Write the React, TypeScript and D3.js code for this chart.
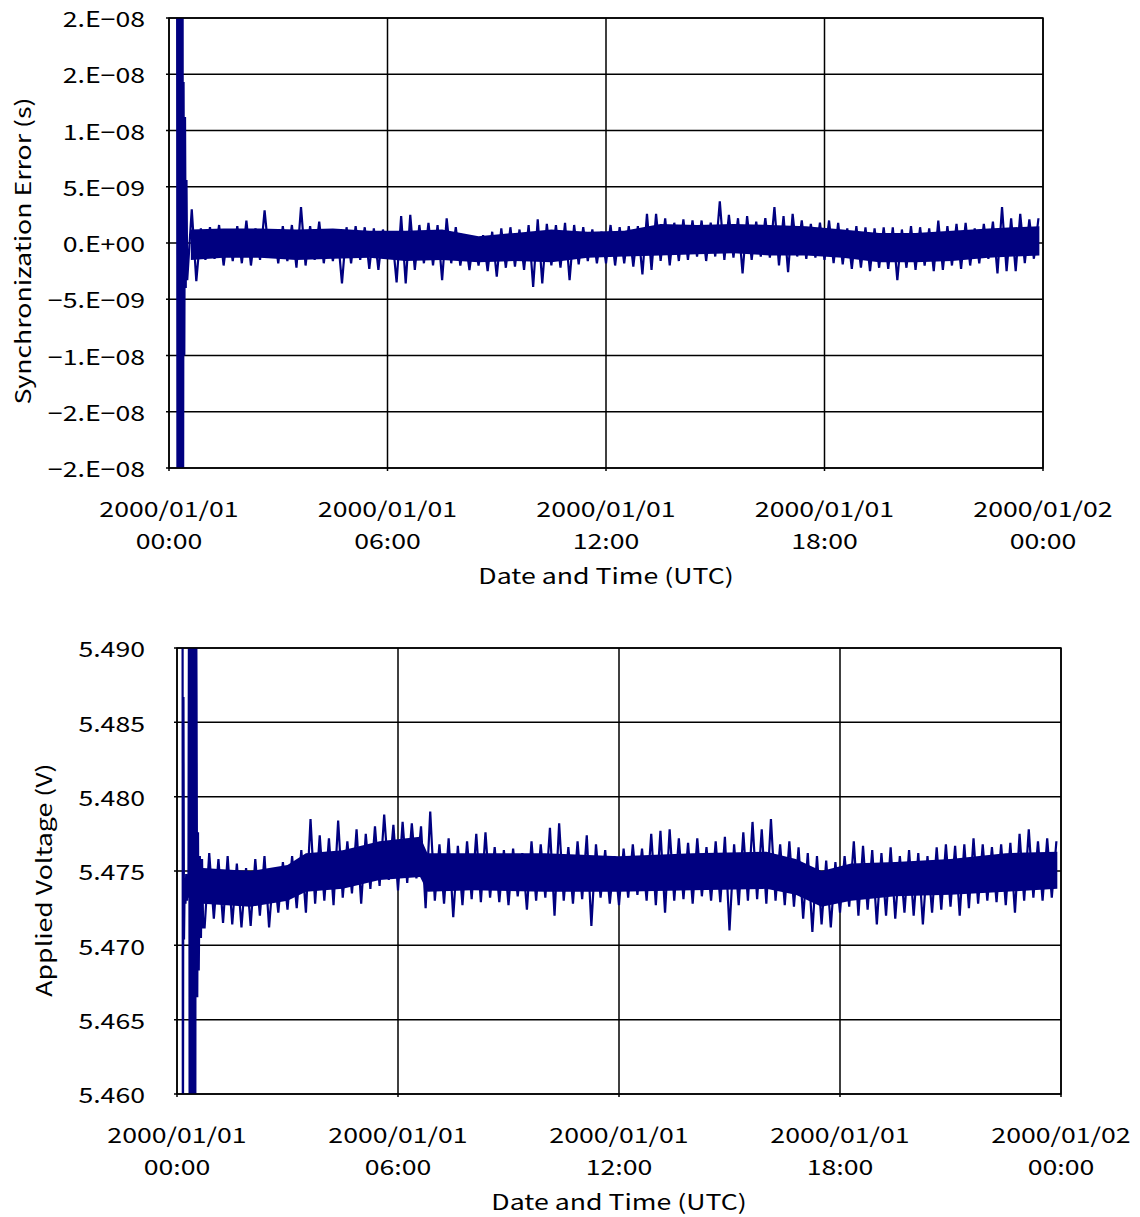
import React from "react";
import * as d3 from "d3";

const FONT = "'Noto Sans CJK JP', 'Noto Sans', sans-serif";
const LINE = "#000080";
const STRETCH = 1.27;

// shared time axis (hours from 2000/01/01 00:00 UTC)
const hourTicks = [0, 6, 12, 18, 24];
const tickDates = ["2000/01/01", "2000/01/01", "2000/01/01", "2000/01/01", "2000/01/02"];
const tickTimes = ["00:00", "06:00", "12:00", "18:00", "00:00"];
const BIN_STEP = 0.25;

// synchronization error, in ns
const syncTicks = [20, 15, 10, 5, 0, -5, -10, -15, -20];
const syncTickLabels = ["2.E−08", "2.E−08", "1.E−08", "5.E−09", "0.E+00", "−5.E−09", "−1.E−08", "−2.E−08", "−2.E−08"];
const syncStartHours = [0.22, 0.235, 0.25, 0.265, 0.28, 0.295, 0.31, 0.325, 0.34, 0.355, 0.37, 0.385, 0.4, 0.42, 0.44, 0.46, 0.48];
const syncStartValues = [40, -40, 40, -40, 40, -40, 40, -40, 40, -40, 40, -30, 14.3, -10, 11.2, -4, 5.6];
const SYNC_BIN_START = 0.5;
const syncHigh = [
  3.0, 1.3, 1.4, 1.6, 1.2, 1.5, 2.0, 1.3, 2.9, 1.2, 1.5, 1.6, 3.2, 1.5, 1.9, 1.2,
  1.0, 1.4, 1.5, 1.4, 1.3, 1.2, 0.8, 2.4, 2.5, 1.6, 1.8, 1.6, 2.2, 1.4, 0.6, 0.6,
  0.7, 1.0, 1.3, 1.4, 1.2, 1.6, 2.1, 1.7, 1.6, 1.8, 1.6, 1.4, 1.2, 1.0, 1.6, 1.4,
  1.5, 1.5, 2.6, 2.6, 2.2, 1.8, 2.1, 2.0, 2.0, 1.8, 3.7, 2.5, 2.2, 2.4, 1.9, 2.2,
  3.2, 2.4, 2.6, 2.0, 1.7, 1.8, 2.0, 1.8, 1.3, 1.5, 1.4, 1.3, 1.4, 1.4, 1.2, 1.5,
  1.4, 1.3, 2.0, 1.5, 1.7, 1.8, 1.3, 1.7, 1.9, 3.2, 2.2, 2.6, 2.1, 2.2,
];
const syncLow = [
  -3.3, -3.4, -1.5, -1.4, -2.0, -1.6, -1.8, -2.0, -1.5, -1.3, -1.8, -1.6, -2.2, -2.0, -1.5, -1.8,
  -1.6, -3.6, -1.8, -1.5, -2.3, -2.4, -1.3, -3.5, -3.6, -2.4, -1.8, -2.0, -3.3, -1.8, -2.0, -2.4,
  -2.0, -2.5, -3.0, -2.2, -2.1, -2.4, -3.9, -3.6, -2.0, -2.2, -3.3, -1.9, -1.6, -1.8, -1.8, -2.0,
  -1.8, -2.1, -2.8, -2.4, -1.6, -2.0, -1.6, -1.5, -1.2, -1.6, -1.2, -1.5, -1.3, -2.7, -1.5, -1.2,
  -1.3, -2.0, -2.6, -1.2, -1.4, -1.3, -1.5, -1.8, -1.9, -2.3, -2.2, -2.5, -2.2, -2.3, -3.3, -2.2,
  -2.4, -2.0, -2.5, -2.4, -2.0, -2.3, -2.0, -1.8, -1.4, -2.7, -2.5, -2.5, -1.8, -1.4,
];
// dense core of the trace (ns)
const syncCoreHours = [0.6, 1.5, 2.5, 3.5, 4.5, 5.5, 6.5, 7.5, 8.5, 9.5, 10.5, 11.5, 12.5, 13.5, 14.5, 15.5, 16.5, 17.5, 18.5, 19.5, 20.5, 21.5, 22.5, 23.9];
const syncCoreHigh = [1.2, 1.3, 1.3, 1.2, 1.3, 1.1, 1.1, 1.2, 0.6, 0.9, 1.2, 1.0, 1.1, 1.7, 1.6, 1.7, 1.6, 1.5, 1.2, 0.9, 0.9, 1.1, 1.3, 1.5];
const syncCoreLow = [-1.5, -1.3, -1.3, -1.5, -1.4, -1.3, -1.6, -1.5, -1.7, -1.6, -1.7, -1.3, -1.2, -1.1, -1.0, -0.9, -1.1, -1.1, -1.3, -1.7, -1.7, -1.6, -1.3, -1.1];

// applied voltage, in V
const voltTicks = [5.49, 5.485, 5.48, 5.475, 5.47, 5.465, 5.46];
const voltStartHours = [
  0.15, 0.16, 0.175, 0.19, 0.21, 0.23, 0.25, 0.27, 0.29, 0.31, 0.33, 0.345, 0.36, 0.375, 0.39, 0.405,
  0.42, 0.435, 0.45, 0.465, 0.48, 0.495, 0.51, 0.53, 0.55, 0.57, 0.59, 0.62, 0.65, 0.68, 0.71,
];
const voltStartValues = [
  5.5, 5.45, 5.4867, 5.4704, 5.4745, 5.4728, 5.4748, 5.473, 5.4746, 5.4732, 5.5, 5.45, 5.5, 5.45, 5.5, 5.45,
  5.5, 5.45, 5.5, 5.45, 5.5, 5.45, 5.5, 5.4869, 5.4665, 5.4776, 5.4683, 5.476, 5.4705, 5.4758, 5.4712,
];
const VOLT_BIN_START = 0.75;
const voltHigh = [
  5.4762, 5.4758, 5.476, 5.4755, 5.4752, 5.4758, 5.476, 5.4752, 5.4756, 5.476, 5.4764, 5.4785, 5.4774, 5.4772, 5.4784, 5.477,
  5.4778, 5.4775, 5.478, 5.4788, 5.4781, 5.4783, 5.4782, 5.478, 5.479, 5.4768, 5.4772, 5.4767, 5.477, 5.4775, 5.4776, 5.4766,
  5.4764, 5.4765, 5.4762, 5.477, 5.4768, 5.4779, 5.4782, 5.4766, 5.477, 5.4774, 5.4768, 5.4764, 5.476, 5.4765, 5.4768, 5.4765,
  5.4775, 5.4777, 5.4778, 5.4772, 5.4769, 5.4772, 5.4766, 5.477, 5.4773, 5.4768, 5.4776, 5.4783, 5.4778, 5.4785, 5.4768, 5.477,
  5.4766, 5.4762, 5.476, 5.4757, 5.4756, 5.476, 5.477, 5.4767, 5.4764, 5.4762, 5.4766, 5.476, 5.4764, 5.4762, 5.476, 5.4766,
  5.4768, 5.4767, 5.4768, 5.4772, 5.4768, 5.4766, 5.4768, 5.4769, 5.4775, 5.4778, 5.477, 5.4772, 5.477,
];
const voltLow = [
  5.4712, 5.4718, 5.4715, 5.4714, 5.4712, 5.4713, 5.472, 5.4712, 5.4722, 5.4724, 5.4725, 5.4722, 5.4728, 5.473, 5.4727, 5.4732,
  5.4735, 5.4728, 5.4738, 5.474, 5.4744, 5.4737, 5.4742, 5.4745, 5.4725, 5.473, 5.4728, 5.4719, 5.4727, 5.4731, 5.4729, 5.4732,
  5.4729, 5.4727, 5.4733, 5.4724, 5.473, 5.4732, 5.472, 5.473, 5.4728, 5.4731, 5.4713, 5.4732, 5.4728, 5.4727, 5.4732, 5.4734,
  5.473, 5.4727, 5.4722, 5.473, 5.4731, 5.4728, 5.4733, 5.473, 5.4729, 5.471, 5.4727, 5.473, 5.4731, 5.4728, 5.473, 5.4727,
  5.4726, 5.4718, 5.4709, 5.4714, 5.4712, 5.4722, 5.4726, 5.472, 5.4724, 5.4714, 5.472, 5.4718, 5.4722, 5.472, 5.4714, 5.4722,
  5.4724, 5.4726, 5.472, 5.4725, 5.4728, 5.473, 5.4729, 5.4727, 5.4722, 5.473, 5.4732, 5.473, 5.4732,
];
// dense core of the trace (V)
const voltCoreHours = [0.7, 2.0, 3.0, 3.5, 4.5, 5.5, 6.6, 6.8, 8.0, 10.0, 12.0, 14.0, 16.0, 16.8, 17.5, 18.3, 19.5, 21.0, 22.5, 23.9];
const voltCoreHigh = [5.4752, 5.475, 5.4754, 5.4762, 5.4764, 5.477, 5.4773, 5.4762, 5.4762, 5.4762, 5.476, 5.4762, 5.4763, 5.4758, 5.475, 5.4755, 5.4756, 5.4758, 5.4762, 5.4763];
const voltCoreLow = [5.4728, 5.4726, 5.473, 5.4736, 5.4738, 5.4744, 5.4746, 5.4736, 5.4737, 5.4736, 5.4736, 5.4737, 5.4738, 5.4734, 5.4726, 5.473, 5.4733, 5.4734, 5.4736, 5.4738];

type Pt = [number, number];
type Band = [number, number, number];

// startup points followed by each bin's low/high swing
function buildSeries(startH: number[], startV: number[], binStart: number, lo: number[], hi: number[]): Pt[] {
  const pts: Pt[] = startH.map((h, i) => [h, startV[i]]);
  lo.forEach((l, i) => {
    const t = binStart + i * BIN_STEP;
    pts.push([t, l]);
    pts.push([t + BIN_STEP / 2, hi[i]]);
  });
  return pts;
}

function buildBand(hours: number[], lo: number[], hi: number[]): Band[] {
  return hours.map((h, i) => [h, lo[i], hi[i]]);
}

function Label(props: { x: number; y: number; anchor?: string; rotate?: number; children: React.ReactNode }) {
  const { x, y, anchor = "middle", rotate = 0, children } = props;
  return (
    <text
      transform={`translate(${x},${y}) rotate(${rotate}) scale(${STRETCH},1)`}
      textAnchor={anchor}
      dominantBaseline="central"
      fontSize={21}
    >
      {children}
    </text>
  );
}

interface PanelProps {
  id: string;
  left: number;
  right: number;
  top: number;
  bottom: number;
  yDomain: [number, number];
  yTicks: number[];
  yLabels: string[];
  data: Pt[];
  core: Band[];
  yTitle: string;
  yTitleX: number;
  yTitleY: number;
}

function Panel(p: PanelProps) {
  const x = d3.scaleLinear().domain([0, 24]).range([p.left, p.right]);
  const y = d3.scaleLinear().domain(p.yDomain).range([p.bottom, p.top]);
  const line = d3
    .line<Pt>()
    .x((d) => x(d[0]))
    .y((d) => y(d[1]));
  const area = d3
    .area<Band>()
    .x((d) => x(d[0]))
    .y0((d) => y(d[1]))
    .y1((d) => y(d[2]));
  const midX = (p.left + p.right) / 2;

  return (
    <g>
      <defs>
        <clipPath id={p.id}>
          <rect x={p.left} y={p.top} width={p.right - p.left} height={p.bottom - p.top} />
        </clipPath>
      </defs>
      {p.yTicks.map((t) => (
        <line key={"h" + t} x1={p.left - 3} x2={p.right} y1={y(t)} y2={y(t)} stroke="#000" strokeWidth={1.5} />
      ))}
      {hourTicks.map((h) => (
        <line key={"v" + h} x1={x(h)} x2={x(h)} y1={p.top} y2={p.bottom + 3} stroke="#000" strokeWidth={1.5} />
      ))}
      <g clipPath={`url(#${p.id})`}>
        <path d={area(p.core) || ""} fill={LINE} />
        <path d={line(p.data) || ""} fill="none" stroke={LINE} strokeWidth={2.2} />
      </g>
      <rect x={p.left} y={p.top} width={p.right - p.left} height={p.bottom - p.top} fill="none" stroke="#000" strokeWidth={1.5} />
      {p.yTicks.map((t, i) => (
        <Label key={"yl" + t} x={145} y={y(t)} anchor="end">
          {p.yLabels[i]}
        </Label>
      ))}
      {hourTicks.map((h, i) => (
        <g key={"xl" + h}>
          <Label x={x(h)} y={p.bottom + 40}>
            {tickDates[i]}
          </Label>
          <Label x={x(h)} y={p.bottom + 72}>
            {tickTimes[i]}
          </Label>
        </g>
      ))}
      <Label x={midX} y={p.bottom + 107}>
        Date and Time (UTC)
      </Label>
      <Label x={p.yTitleX} y={p.yTitleY} rotate={-90}>
        {p.yTitle}
      </Label>
    </g>
  );
}

export default function App() {
  const syncData = buildSeries(syncStartHours, syncStartValues, SYNC_BIN_START, syncLow, syncHigh);
  const voltData = buildSeries(voltStartHours, voltStartValues, VOLT_BIN_START, voltLow, voltHigh);
  const syncCore = buildBand(syncCoreHours, syncCoreLow, syncCoreHigh);
  const voltCore = buildBand(voltCoreHours, voltCoreLow, voltCoreHigh);
  return (
    <svg
      width={1140}
      height={1217}
      style={{ position: "absolute", left: 0, top: 0, background: "#fff" }}
      fontFamily={FONT}
      fill="#000"
    >
      <Panel
        id="clipSync"
        left={169}
        right={1043}
        top={18}
        bottom={468}
        yDomain={[-20, 20]}
        yTicks={syncTicks}
        yLabels={syncTickLabels}
        data={syncData}
        core={syncCore}
        yTitle="Synchronization Error (s)"
        yTitleX={22}
        yTitleY={251}
      />
      <Panel
        id="clipVolt"
        left={177}
        right={1061}
        top={648}
        bottom={1094}
        yDomain={[5.46, 5.49]}
        yTicks={voltTicks}
        yLabels={voltTicks.map((v) => d3.format(".3f")(v))}
        data={voltData}
        core={voltCore}
        yTitle="Applied Voltage (V)"
        yTitleX={43}
        yTitleY={880}
      />
    </svg>
  );
}
